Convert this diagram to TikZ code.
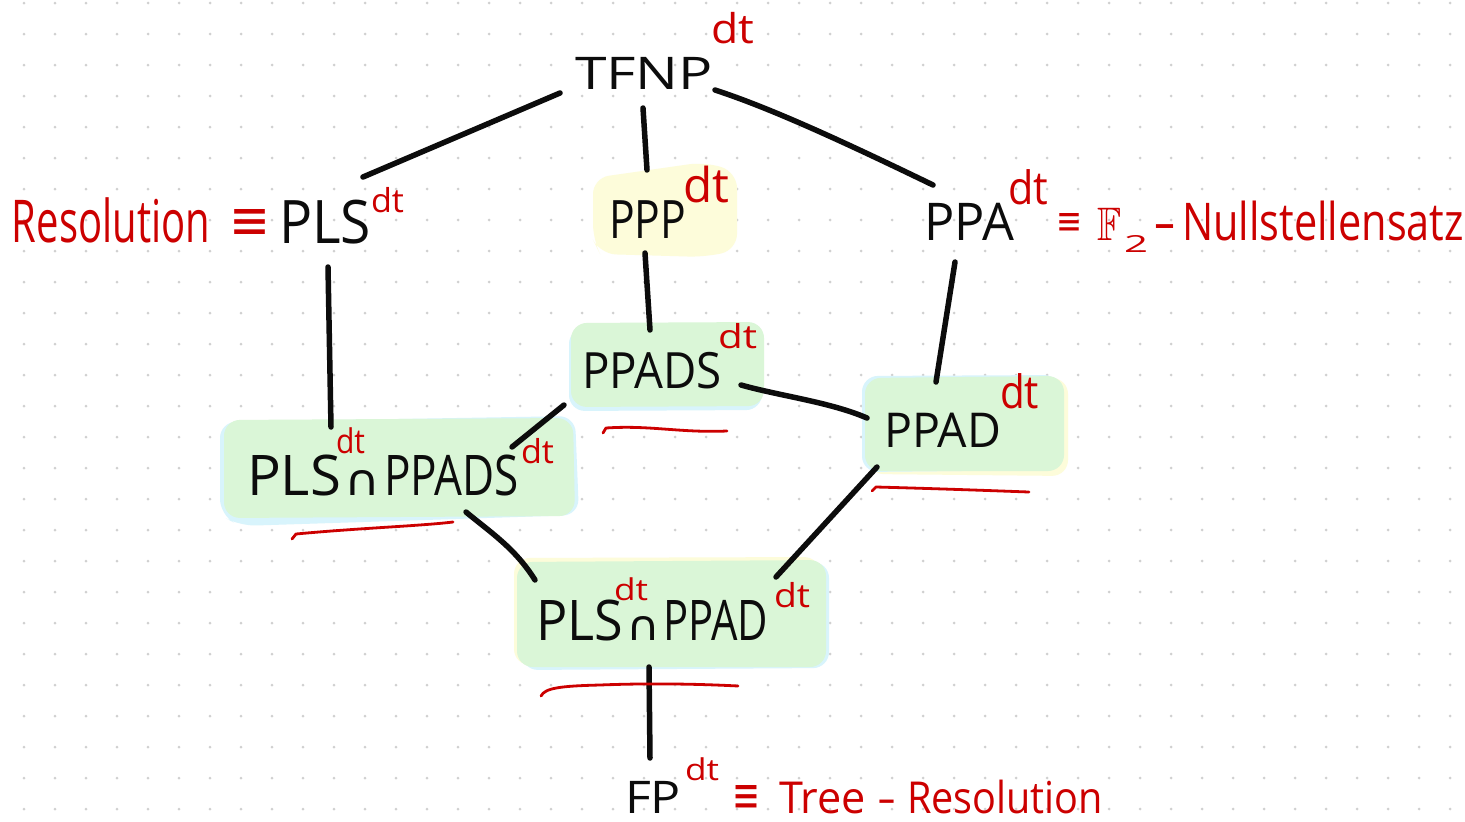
\documentclass[tikz,border=0pt]{standalone}
\usepackage{fontspec}
\usepackage{amssymb}
\usepackage{graphicx}
\setmainfont{Open Sans}
\newfontfamily\symfont{DejaVu Sans}
% stretch a piece of text horizontally to a given width (in pt)
\newcommand{\fitw}[2]{\resizebox{#1pt}{\height}{#2}}
% a symbol glyph forced to a given width and height (in pt)
\newcommand{\fitwh}[3]{\resizebox{#1pt}{#2pt}{\symfont #3}}

\definecolor{ink}{RGB}{12,12,12}
\definecolor{pen}{RGB}{204,0,0}
\definecolor{hlgreen}{RGB}{218,246,215}
\definecolor{hlblue}{RGB}{216,244,252}
\definecolor{hlyellow}{RGB}{253,252,218}
\definecolor{griddot}{RGB}{208,208,208}

\begin{document}
\begin{tikzpicture}[x=1pt,y=-1pt,
  cls/.style={inner sep=0pt, outer sep=0pt, anchor=base west, text=ink,
              font=\fontsize{#1}{#1}\selectfont},
  note/.style={inner sep=0pt, outer sep=0pt, anchor=base west, text=pen,
              font=\fontsize{#1}{#1}\selectfont},
  edge/.style={draw=ink, line width=5.5pt, line cap=round, line join=round},
  uline/.style={draw=pen, line width=2.8pt, line cap=round, line join=round},
  blob/.style={rounded corners=16pt},
]
% canvas and dotted grid
\fill[white] (0,0) rectangle (1465,822);
\useasboundingbox (0,0) rectangle (1465,822);
\foreach \i in {0,...,46} {
  \foreach \j in {0,...,26} {
    \fill[griddot] ({24+31*\i},{3+31*\j}) circle (1.5);
  }
}

% highlighter marks
\fill[hlyellow, blob] (593,178) -- (705,162) -- (737,172) -- (737,250) -- (705,257) -- (600,254) -- (593,240) -- cycle;

\fill[hlblue, blob] (569,328) -- (762,325) -- (762,410) -- (569,411) -- cycle;
\fill[hlgreen, blob] (571,323) -- (764,322) -- (764,406) -- (571,407) -- cycle;

\fill[hlyellow, blob] (868,380) -- (1068,378) -- (1068,476) -- (868,474) -- cycle;
\fill[hlblue, blob] (862,376) -- (1060,375) -- (1060,470) -- (862,472) -- cycle;
\fill[hlgreen, blob] (865,378) -- (1064,376) -- (1064,471) -- (865,471) -- cycle;

\fill[hlblue, blob] (220,422) -- (575,416) -- (579,515) -- (240,526) -- (220,515) -- cycle;
\fill[hlgreen, blob] (224,420) -- (573,418) -- (575,516) -- (224,518) -- cycle;

\fill[hlyellow, blob] (514,558) -- (820,557) -- (822,665) -- (514,665) -- cycle;
\fill[hlblue, blob] (520,565) -- (829,562) -- (829,668) -- (522,670) -- cycle;
\fill[hlgreen, blob] (517,562) -- (826,560) -- (826,667) -- (517,667) -- cycle;

% complexity classes
\node[cls=45] (tfnp) at (575,89) {\fitw{138}{TFNP}};
\node[cls=60] (pls) at (279,243) {\fitw{92}{PLS}};
\node[cls=53] (ppp) at (609,238) {\fitw{77}{PPP}};
\node[cls=52] (ppa) at (924,240) {\fitw{90}{PPA}};
\node[cls=50] (ppads) at (582,388) {\fitw{140}{PPADS}};
\node[cls=48] (ppad) at (884,447) {\fitw{117}{PPAD}};
\node[cls=56] (plsppads) at (247,495)
  {\fitw{94}{PLS}\hspace{3pt}\fitwh{36}{25}{∩}\hspace{4pt}\fitw{135}{PPADS}};
\node[cls=56] (plsppad) at (536,640)
  {\fitw{87}{PLS}\hspace{3pt}\fitwh{34}{24}{∩}\hspace{3pt}\fitw{105}{PPAD}};
\node[cls=45] (fp) at (625,813) {\fitw{56}{FP}};

% decision-tree superscripts
\node[note=41] (dttfnp) at (711,43) {\fitw{43}{dt}};
\node[note=33] (dtpls) at (371,212) {\fitw{33}{dt}};
\node[note=48] (dtppp) at (683,202) {\fitw{46}{dt}};
\node[note=46] (dtppa) at (1008,204) {\fitw{40}{dt}};
\node[note=33] (dtppads) at (718,348) {\fitw{39}{dt}};
\node[note=46] (dtppad) at (1000,408) {\fitw{39}{dt}};
\node[note=34] (dtplsa) at (336,453) {\fitw{29}{dt}};
\node[note=33] (dtppadsb) at (521,463) {\fitw{33}{dt}};
\node[note=30] (dtplsb) at (614,600) {\fitw{34}{dt}};
\node[note=33] (dtppadb) at (774,607) {\fitw{36}{dt}};
\node[note=30] (dtfp) at (685,780) {\fitw{34}{dt}};

% proof systems
\node[note=59] (resol) at (12,242) {\fitw{198}{Resolution}};
\node[note=50] (eqpls) at (229,239) {\fitwh{41}{30}{≡}};
\node[note=28] (eqppa) at (1056,234) {\fitwh{26}{21}{≡}};
\node[note=47] (ftwo) at (1097,240)
  {\fitw{24}{$\mathbb{F}$}\hspace{3pt}\raisebox{-12pt}{\resizebox{24pt}{17pt}{2}}};
\node[note=52] (nullst) at (1153,240) {\fitw{23}{-}\hspace{6pt}\fitw{282}{Nullstellensatz}};
\node[note=50] (eqfp) at (732,812) {\fitwh{28}{27}{≡}};
\node[note=44] (treeres) at (779,813)
  {\fitw{87}{Tree}\hspace{11pt}\fitw{19}{-}\hspace{11pt}\fitw{196}{Resolution}};

% inclusions
\draw[edge] ([shift={(-15,4)}]tfnp.base west) -- ([shift={(84,-66)}]pls.base west);
\draw[edge] ([shift={(68,19)}]tfnp.base west) -- ([shift={(38,-68)}]ppp.base west);
\draw[edge] ([shift={(140,1)}]tfnp.base west)
  .. controls ([shift={(195,19)}]tfnp.base west) and ([shift={(265,51)}]tfnp.base west)
  .. ([shift={(9,-55)}]ppa.base west);
\draw[edge] ([shift={(49,24)}]pls.base west) -- ([shift={(84,-68)}]plsppads.base west);
\draw[edge] ([shift={(36,15)}]ppp.base west) -- ([shift={(68,-58)}]ppads.base west);
\draw[edge] ([shift={(31,22)}]ppa.base west) -- ([shift={(52,-65)}]ppad.base west);
\draw[edge] ([shift={(-18,17)}]ppads.base west) -- ([shift={(265,-48)}]plsppads.base west);
\draw[edge] ([shift={(159,-3)}]ppads.base west)
  .. controls ([shift={(198,8)}]ppads.base west) and ([shift={(248,14)}]ppads.base west)
  .. ([shift={(-17,-29)}]ppad.base west);
\draw[edge] ([shift={(219,17)}]plsppads.base west)
  .. controls ([shift={(243,37)}]plsppads.base west) and ([shift={(-21,-92)}]plsppad.base west)
  .. ([shift={(-1,-60)}]plsppad.base west);
\draw[edge] ([shift={(-7,20)}]ppad.base west) -- ([shift={(240,-63)}]plsppad.base west);
\draw[edge] ([shift={(113,27)}]plsppad.base west) -- ([shift={(25,-55)}]fp.base west);

% red underlines
\draw[uline] (603,433) -- (606,428) .. controls (650,425) and (680,433) .. (727,431);
\draw[uline] (872,491) -- (876,487) .. controls (950,489) and (1000,491) .. (1029,492);
\draw[uline] (292,539) -- (296,534) .. controls (360,528) and (420,526) .. (453,522);
\draw[uline] (541,696) .. controls (545,688) and (560,686) .. (600,685)
  .. controls (650,683) and (700,684) .. (738,686);
\end{tikzpicture}
\end{document}
